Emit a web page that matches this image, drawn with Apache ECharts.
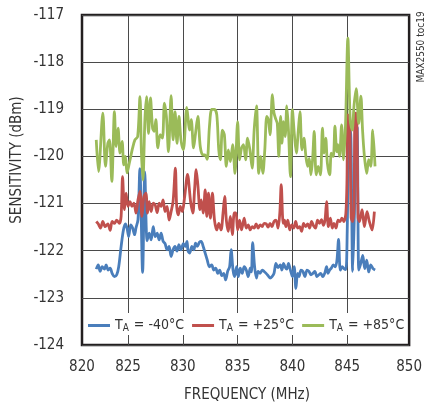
<!DOCTYPE html>
<html><head><meta charset="utf-8">
<script src="https://cdn.jsdelivr.net/npm/echarts@6/dist/echarts.min.js"></script>
<style>html,body{margin:0;padding:0;background:#fff}#c{width:425px;height:407px}</style>
</head><body><div id="c"></div>
<script>
const FONT = "'DejaVu Sans Condensed', 'Liberation Sans', sans-serif";
const xTickLabels = ['820','825','830','835','840','845','850'];
const xTickValues = [820.8, 825, 830, 835, 840, 845, 850.65];
const xGridValues = [825, 830, 835, 840, 845];
const seriesNames = ['TA = -40°C', 'TA = +25°C', 'TA = +85°C'];

const blueData = [[822.10,-122.39],[822.28,-122.30],[822.46,-122.44],[822.64,-122.34],[822.85,-122.39],[823.0,-122.30],[823.19,-122.41],[823.37,-122.37],[823.55,-122.48],[823.76,-122.55],[823.97,-122.51],[824.15,-122.34],[824.37,-121.91],[824.58,-121.56],[824.76,-121.43],[824.91,-121.52],[825.06,-121.70],[825.24,-121.45],[825.42,-121.52],[825.60,-121.66],[825.72,-121.52],[825.91,-121.34],[826.08,-120.26],[826.33,-122.46],[826.53,-120.33],[826.74,-121.79],[826.93,-121.63],[827.11,-121.77],[827.30,-121.49],[827.48,-121.70],[827.66,-121.63],[827.84,-121.77],[828.02,-121.63],[828.20,-121.80],[828.38,-121.85],[828.56,-121.98],[828.75,-121.91],[828.93,-122.12],[829.11,-121.98],[829.29,-121.91],[829.47,-122.01],[829.65,-121.87],[829.83,-121.98],[830.05,-121.85],[830.22,-121.91],[830.38,-121.80],[830.47,-122.0],[830.62,-122.05],[830.83,-121.91],[831.01,-121.98],[831.16,-121.84],[831.31,-121.91],[831.52,-121.82],[831.68,-121.80],[831.86,-121.91],[832.04,-122.05],[832.22,-122.19],[832.43,-122.34],[832.64,-122.30],[832.82,-122.41],[833.0,-122.37],[833.19,-122.48],[833.37,-122.41],[833.55,-122.53],[833.73,-122.48],[833.91,-122.62],[834.09,-122.44],[834.27,-122.34],[834.41,-121.98],[834.58,-122.41],[834.73,-122.55],[834.91,-122.34],[835.06,-122.55],[835.24,-122.37],[835.42,-122.48],[835.60,-122.34],[835.79,-122.41],[835.97,-122.55],[836.15,-122.37],[836.26,-122.45],[836.37,-121.83],[836.55,-122.34],[836.72,-122.58],[836.87,-122.44],[837.05,-122.48],[837.24,-122.41],[837.42,-122.44],[837.60,-122.48],[837.78,-122.53],[837.96,-122.58],[838.14,-122.55],[838.32,-122.48],[838.50,-122.27],[838.68,-122.36],[838.89,-122.30],[839.04,-122.41],[839.19,-122.27],[839.34,-122.35],[839.49,-122.39],[839.64,-122.27],[839.82,-122.41],[840.0,-122.55],[840.16,-122.34],[840.32,-122.80],[840.47,-122.48],[840.60,-122.55],[840.78,-122.41],[840.96,-122.44],[841.14,-122.55],[841.33,-122.41],[841.51,-122.44],[841.69,-122.51],[841.87,-122.48],[842.05,-122.44],[842.23,-122.55],[842.41,-122.51],[842.59,-122.48],[842.77,-122.55],[842.95,-122.48],[843.12,-122.34],[843.25,-122.48],[843.40,-122.41],[843.55,-122.37],[843.73,-122.30],[843.92,-122.34],[844.07,-122.19],[844.21,-121.76],[844.37,-122.41],[844.55,-122.34],[844.70,-122.38],[844.88,-122.40],[845.0,-121.6],[845.16,-119.45],[845.30,-119.45],[845.50,-122.44],[845.66,-121.2],[845.80,-119.36],[845.92,-119.40],[846.06,-122.41],[846.24,-122.27],[846.42,-122.10],[846.60,-122.38],[846.78,-122.20],[846.96,-122.45],[847.15,-122.30],[847.36,-122.38],[847.55,-122.41]];

const redData = [[822.10,-121.38],[822.28,-121.43],[822.49,-121.52],[822.70,-121.38],[822.92,-121.49],[823.16,-121.43],[823.37,-121.57],[823.55,-121.38],[823.76,-121.42],[823.97,-121.35],[824.21,-121.42],[824.37,-121.27],[824.50,-120.43],[824.67,-121.13],[824.82,-120.78],[825.0,-121.06],[825.18,-120.96],[825.36,-121.06],[825.54,-120.99],[825.73,-121.20],[825.91,-120.92],[826.09,-120.74],[826.27,-121.27],[826.45,-120.85],[826.63,-120.78],[826.78,-121.20],[826.93,-120.96],[827.11,-121.17],[827.30,-120.99],[827.48,-121.03],[827.66,-121.19],[827.84,-120.99],[828.02,-121.06],[828.20,-120.92],[828.38,-121.17],[828.56,-121.06],[828.75,-121.35],[828.93,-121.17],[829.11,-120.96],[829.32,-120.25],[829.44,-121.06],[829.59,-121.24],[829.77,-121.06],[829.95,-121.17],[830.17,-120.85],[830.43,-120.38],[830.71,-120.96],[830.92,-121.20],[831.07,-120.71],[831.22,-120.28],[831.37,-120.60],[831.56,-121.13],[831.68,-120.92],[831.86,-121.20],[832.04,-120.71],[832.19,-121.27],[832.34,-120.78],[832.52,-121.31],[832.70,-120.78],[832.89,-121.35],[833.10,-121.56],[833.28,-121.42],[833.49,-121.56],[833.67,-121.20],[833.82,-120.85],[833.97,-121.35],[834.15,-121.59],[834.34,-121.27],[834.52,-121.66],[834.70,-121.20],[834.85,-121.20],[835.0,-121.56],[835.18,-121.35],[835.36,-121.56],[835.60,-121.31],[835.79,-121.52],[835.97,-121.45],[836.15,-121.56],[836.33,-121.49],[836.51,-121.52],[836.69,-121.43],[836.87,-121.52],[837.05,-121.45],[837.24,-121.49],[837.42,-121.42],[837.60,-121.43],[837.78,-121.50],[837.96,-121.42],[838.14,-121.49],[838.32,-121.38],[838.50,-121.35],[838.69,-121.52],[838.85,-121.20],[838.98,-120.60],[839.16,-121.42],[839.28,-121.35],[839.40,-121.49],[839.58,-121.35],[839.76,-121.56],[839.94,-121.45],[840.12,-121.52],[840.30,-121.38],[840.48,-121.52],[840.66,-121.49],[840.84,-121.59],[841.02,-121.42],[841.20,-121.49],[841.39,-121.43],[841.57,-121.52],[841.75,-121.38],[841.93,-121.47],[842.11,-121.52],[842.29,-121.35],[842.47,-121.42],[842.65,-121.34],[842.83,-121.46],[842.98,-121.34],[843.12,-120.96],[843.28,-121.49],[843.46,-121.31],[843.64,-121.52],[843.79,-121.42],[843.98,-121.52],[844.16,-121.35],[844.34,-121.38],[844.52,-121.31],[844.70,-121.38],[844.88,-121.20],[844.98,-120.5],[845.06,-119.12],[845.22,-119.15],[845.36,-121.3],[845.50,-121.38],[845.62,-121.1],[845.72,-119.08],[845.86,-119.10],[846.00,-121.3],[846.12,-121.38],[846.36,-121.13],[846.57,-121.49],[846.81,-121.17],[847.00,-121.36],[847.27,-121.56],[847.48,-121.17]];

const greenData = [[822.10,-119.65],[822.31,-120.32],[822.70,-119.08],[822.94,-120.21],[823.16,-119.72],[823.31,-119.65],[823.52,-120.53],[823.76,-119.05],[823.91,-119.79],[824.09,-119.40],[824.27,-119.93],[824.46,-119.68],[824.61,-120.18],[824.76,-120.0],[824.91,-120.35],[825.12,-120.14],[825.42,-119.82],[825.63,-119.65],[825.88,-119.58],[826.09,-118.73],[826.22,-119.9],[826.36,-120.50],[826.54,-119.22],[826.69,-118.73],[826.87,-119.51],[827.05,-118.76],[827.24,-119.40],[827.39,-119.47],[827.54,-119.22],[827.72,-119.82],[827.93,-119.54],[828.14,-119.61],[828.32,-118.87],[828.50,-119.15],[828.69,-119.90],[828.93,-118.71],[829.11,-119.65],[829.29,-119.05],[829.47,-119.72],[829.65,-119.15],[829.83,-119.65],[830.05,-119.86],[830.36,-118.96],[830.62,-119.44],[830.77,-119.22],[830.98,-119.82],[831.16,-119.51],[831.37,-119.15],[831.59,-119.79],[831.83,-119.97],[832.01,-119.97],[832.22,-120.06],[832.43,-119.36],[832.64,-119.0],[832.89,-119.0],[833.10,-119.12],[833.28,-119.86],[833.43,-120.07],[833.61,-119.44],[833.79,-119.54],[833.97,-120.21],[834.15,-119.86],[834.34,-120.11],[834.55,-119.75],[834.76,-120.36],[835.0,-119.26],[835.18,-120.07],[835.36,-119.82],[835.54,-119.75],[835.73,-120.07],[835.91,-119.61],[836.12,-119.86],[836.33,-120.25],[836.51,-119.44],[836.72,-118.93],[836.93,-120.36],[837.11,-120.0],[837.30,-120.36],[837.48,-119.86],[837.66,-119.15],[837.81,-119.22],[837.96,-119.54],[838.17,-118.69],[838.32,-119.08],[838.50,-119.22],[838.62,-119.3],[838.76,-120.0],[838.92,-119.15],[839.04,-119.72],[839.19,-119.26],[839.34,-119.58],[839.49,-118.93],[839.64,-119.44],[839.82,-120.43],[840.0,-119.01],[840.18,-119.54],[840.36,-119.93],[840.54,-119.44],[840.69,-119.05],[840.87,-119.86],[841.05,-119.61],[841.23,-120.0],[841.39,-120.21],[841.54,-120.04],[841.69,-120.39],[841.84,-120.07],[841.99,-119.47],[842.17,-120.39],[842.35,-120.21],[842.56,-120.39],[842.74,-119.40],[842.89,-119.93],[843.04,-119.61],[843.19,-120.14],[843.40,-120.39],[843.55,-119.93],[843.73,-120.0],[843.88,-119.36],[844.05,-119.90],[844.15,-119.75],[844.30,-120.0],[844.49,-119.33],[844.67,-120.07],[844.85,-119.30],[845.06,-117.49],[845.27,-119.22],[845.45,-119.44],[845.63,-118.90],[845.82,-118.56],[846.05,-119.30],[846.25,-118.72],[846.40,-119.44],[846.57,-120.0],[846.78,-120.36],[846.96,-120.07],[847.15,-120.21],[847.33,-119.44],[847.54,-120.21]];

const colors = ['#4a7ebb', '#c0504d', '#9bbb59'];
const seriesData = [blueData, redData, greenData];

const chart = echarts.init(document.getElementById('c'), null, {renderer: 'canvas'});
chart.setOption({
  animation: false,
  backgroundColor: '#fff',
  grid: { left: 82, top: 15, right: 13, bottom: 62, show: true, borderColor: '#231f20', borderWidth: 2.5, backgroundColor: 'transparent' },
  xAxis: {
    type: 'value', min: 820.8, max: 850.65,
    axisLine: { show: false },
    axisTick: { show: false, customValues: xGridValues },
    splitLine: { show: true, lineStyle: { color: '#4a4a4a', width: 1 } },
    axisLabel: {
      customValues: xTickValues, margin: 15,
      color: '#333', fontSize: 15, fontFamily: FONT,
      formatter: v => xTickLabels[Math.round((v - 820) / 5)]
    }
  },
  yAxis: {
    type: 'value', min: -124, max: -117, interval: 1,
    axisLine: { show: false }, axisTick: { show: false },
    splitLine: { show: true, lineStyle: { color: '#4a4a4a', width: 1 } },
    axisLabel: { margin: 18, color: '#333', fontSize: 15, fontFamily: FONT }
  },
  legend: {
    left: 84, top: 313, itemGap: 8, itemWidth: 22, itemHeight: 3, icon: 'rect',
    backgroundColor: '#fff', padding: [2, 3, 2, 4],
    data: seriesNames,
    formatter: n => '{t|T}{s|A}{t|' + n.slice(2) + '}',
    textStyle: {
      color: '#333', fontFamily: FONT,
      rich: {
        t: { fontSize: 14, fontFamily: FONT, color: '#333', lineHeight: 15, verticalAlign: 'top' },
        s: { fontSize: 10, fontFamily: FONT, color: '#333', lineHeight: 10, verticalAlign: 'bottom', padding: [8, 1, 0, 0] }
      }
    }
  },
  graphic: [
    { type: 'text', x: 17, y: 160, rotation: Math.PI / 2,
      style: { text: 'SENSITIVITY (dBm)', fontSize: 15, fontFamily: FONT, fill: '#333', align: 'center', verticalAlign: 'middle' } },
    { type: 'text', x: 247, y: 395,
      style: { text: 'FREQUENCY (MHz)', fontSize: 15, fontFamily: FONT, fill: '#333', align: 'center', verticalAlign: 'middle' } },
    { type: 'text', x: 421, y: 47, rotation: Math.PI / 2,
      style: { text: 'MAX2550 toc19', fontSize: 10, fontFamily: FONT, fill: '#333', align: 'center', verticalAlign: 'middle' } }
  ],
  series: seriesNames.map((name, i) => ({
    name, type: 'line', data: seriesData[i], showSymbol: false, smooth: 0.3,
    color: colors[i], lineStyle: { width: 2.8, color: colors[i] }, z: 2 + i
  }))
});
</script></body></html>
